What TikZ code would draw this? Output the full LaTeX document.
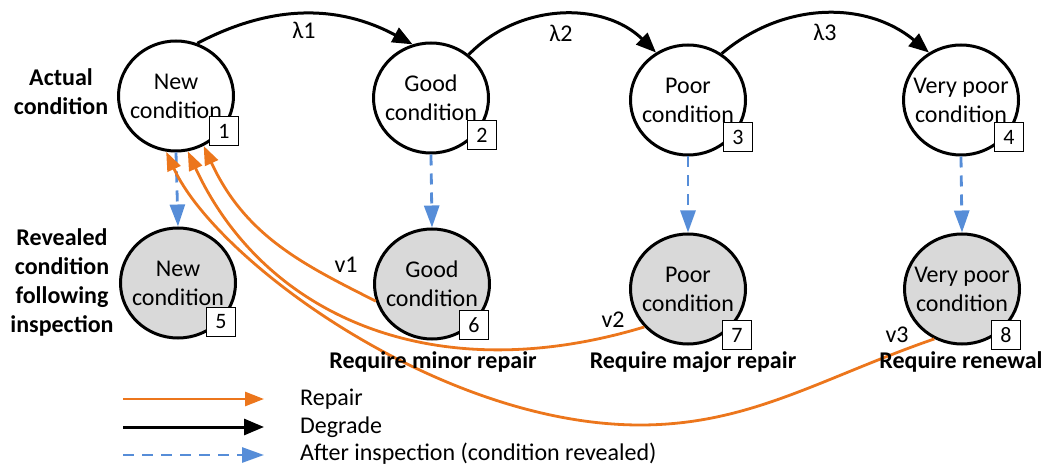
\documentclass[tikz,border=0pt]{standalone}
\usepackage{fontspec}
\setmainfont{Carlito}
\usetikzlibrary{arrows.meta,shapes.geometric}
\definecolor{rorange}{RGB}{236,118,28}
\definecolor{iblue}{RGB}{86,141,216}
\definecolor{cgray}{RGB}{217,217,217}
\begin{document}
\begin{tikzpicture}[x=1pt,y=1pt,
  txt/.style={font=\fontsize{24}{29}\selectfont, inner sep=0pt, align=center},
  btxt/.style={inner sep=0pt, align=center, font=\fontsize{24}{29}\selectfont\bfseries},
  cond/.style={ellipse, draw, line width=3pt, minimum width=115pt, minimum height=110pt, inner sep=0pt},
  actual/.style={cond, fill=white},
  revealed/.style={cond, fill=cgray},
  numbox/.style={draw, line width=1.3pt, fill=white, minimum size=29pt, inner sep=0pt, font=\fontsize{22}{24}\selectfont},
  degr/.style={line width=3pt, -{Triangle[length=20pt,width=16pt]}},
  repair/.style={draw=rorange, line width=2.8pt, -{Triangle[length=19pt,width=14pt]}, rorange},
  insp/.style={draw=iblue, line width=2.8pt, dash pattern=on 11pt off 8pt, -{Triangle[length=22pt,width=15pt]}, iblue},
]
\useasboundingbox (0,0) rectangle (1048,466);

% condition states
\node[actual] (n1) at (176,370) {};
\node[actual] (n2) at (431,368) {};
\node[actual] (n3) at (688,366) {};
\node[actual] (n4) at (961,366) {};
\node[revealed] (n5) at (178,183) {};
\node[revealed] (n6) at (432,182) {};
\node[revealed] (n7) at (688,177) {};
\node[revealed] (n8) at (962,177) {};

\node[txt] (t1) at (n1) {New\\condition};
\node[txt] (t2) at (n2) {Good\\condition};
\node[txt] (t3) at (n3) {Poor\\condition};
\node[txt] (t4) at (n4) {Very poor\\condition};
\node[txt] (t5) at (n5) {New\\condition};
\node[txt] (t6) at (n6) {Good\\condition};
\node[txt] (t7) at (n7) {Poor\\condition};
\node[txt] (t8) at (n8) {Very poor\\condition};

% degrade
\draw[degr] (n1.68) to[bend left=28] (n2.109);
\draw[degr] (n2.49) to[bend left=45] (n3.124);
\draw[degr] (n3.54) to[bend left=40] (n4.124);
\node[txt] (lam1) at (304,436) {λ1};
\node[txt] (lam2) at (561,433) {λ2};
\node[txt] (lam3) at (825,434) {λ3};

% inspection
\draw[insp] (n1.south) -- (n5.north);
\draw[insp] (n2.south) -- (n6.north);
\draw[insp] (n3.south) -- (n7.north);
\draw[insp] (n4.south) -- (n8.north);

% repair
\draw[repair] (n6.197) .. controls +(-71,36) and +(42,-91) .. (n1.299);
\draw[repair] (n7.221) .. controls +(-212,-64) and +(76,-164) .. (n1.282);
\coordinate (m3) at (640,41);
\draw[repair] (n8.241) .. controls +(-113,-39) and +(110,0) .. (m3)
  .. controls +(-200,0) and +(50,-109) .. (n1.260);
\node[txt] (v1) at (346,201) {v1};
\node[txt] (v2) at (613,146) {v2};
\node[txt] (v3) at (897,131) {v3};

% numbers
\node[numbox] (b1) at (224,335) {1};
\node[numbox] (b2) at (482,331) {2};
\node[numbox] (b3) at (738,329) {3};
\node[numbox] (b4) at (1009,329) {4};
\node[numbox] (b5) at (221,144) {5};
\node[numbox] (b6) at (474,141) {6};
\node[numbox] (b7) at (737,131) {7};
\node[numbox] (b8) at (1006,131) {8};

% row labels
\node[btxt] (ac) at (61,374) {Actual\\condition};
\node[btxt] (rc) at (62,184) {Revealed\\condition\\following\\inspection};
\node[btxt, anchor=base] (r1) at (433,98) {Require minor repair};
\node[btxt, anchor=base] (r2) at (693,98) {Require major repair};
\node[btxt, anchor=base] (r3) at (961,98) {Require renewal};

% legend
\coordinate (la1) at (123,67); \coordinate (lb1) at (264,67);
\coordinate (la2) at (123,39); \coordinate (lb2) at (264,39);
\coordinate (la3) at (123,11); \coordinate (lb3) at (264,11);
\draw[repair] (la1) -- (lb1);
\draw[degr] (la2) -- (lb2);
\draw[insp] (la3) -- (lb3);
\node[txt, anchor=base west] (lt1) at (300,61) {Repair};
\node[txt, anchor=base west] (lt2) at (300,33) {Degrade};
\node[txt, anchor=base west] (lt3) at (300,6) {After inspection (condition revealed)};
\end{tikzpicture}
\end{document}
